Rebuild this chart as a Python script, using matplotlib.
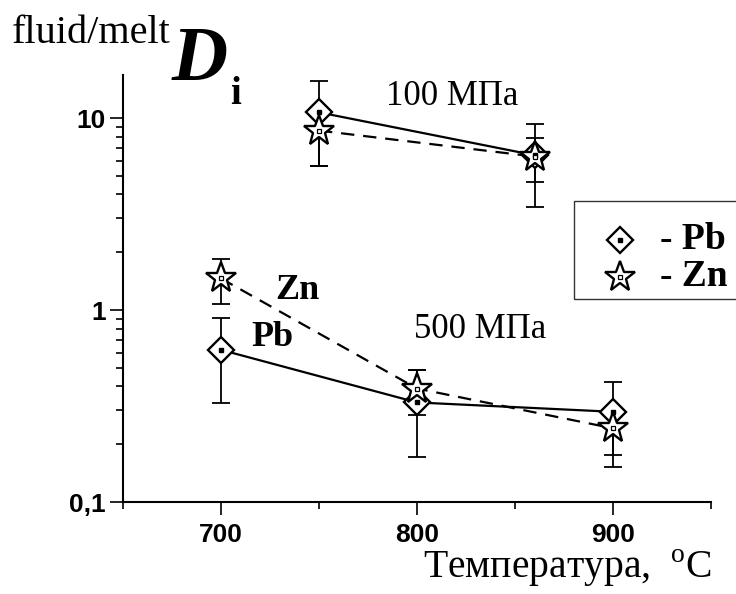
import matplotlib.pyplot as plt
from matplotlib.ticker import FixedLocator, FixedFormatter, LogLocator, NullFormatter
from matplotlib.lines import Line2D
from matplotlib.patches import Rectangle

plt.rcParams['mathtext.fontset'] = 'custom'
plt.rcParams['mathtext.rm'] = 'Liberation Serif'

# -- partition coefficients fluid/melt, 100 MPa runs
t_100 = [750, 860]
pb_100 = [10.7, 6.4]
pb_100_lo = [5.6, 3.45]
pb_100_hi = [15.6, 9.3]
zn_100 = [8.6, 6.3]
zn_100_lo = [5.6, 4.66]
zn_100_hi = [10.8, 7.9]

# -- 500 MPa runs
t_500 = [700, 800, 900]
pb_500 = [0.62, 0.33, 0.295]
pb_500_lo = [0.327, 0.172, 0.176]
pb_500_hi = [0.905, 0.487, 0.42]
zn_500 = [1.46, 0.39, 0.242]
zn_500_lo = [1.07, 0.284, 0.153]
zn_500_hi = [1.84, 0.487, 0.305]

x_ticks = [700, 800, 900]
y_ticks = [0.1, 1, 10]
y_labels = ['0,1', '1', '10']

serif = 'Liberation Serif'
sans = 'Liberation Sans'

fig = plt.figure(figsize=(7.36, 5.94), dpi=100)
ax = fig.add_axes([123 / 736, 92 / 594, 588 / 736, 427 / 594])


def series(x, y, lo, hi, marker, ms, ls):
    yerr = [[v - l for v, l in zip(y, lo)], [h - v for v, h in zip(y, hi)]]
    ax.errorbar(x, y, yerr=yerr, fmt='none', ecolor='black', elinewidth=1.3,
                capsize=6.5, capthick=1.3, zorder=2)
    ax.plot(x, y, color='black', lw=1.6, ls=ls, zorder=3,
            dashes=(6, 4) if ls == '--' else (None, None))
    ax.plot(x, y, ls='none', marker=marker, ms=ms, mfc='white', mec='black',
            mew=1.7, zorder=4)
    if marker == 'D':
        ax.plot(x, y, ls='none', marker='s', ms=2.2, mfc='black', mec='black', zorder=5)
    else:
        ax.plot(x, y, ls='none', marker='s', ms=3.5, mfc='white', mec='black',
                mew=0.9, zorder=5)


series(t_100, pb_100, pb_100_lo, pb_100_hi, 'D', 13, '-')
series(t_100, zn_100, zn_100_lo, zn_100_hi, '*', 23, '--')
series(t_500, pb_500, pb_500_lo, pb_500_hi, 'D', 13, '-')
series(t_500, zn_500, zn_500_lo, zn_500_hi, '*', 23, '--')

ax.set_yscale('log')
ax.set_xlim(650, 950)
ax.set_ylim(0.1, 16.75)

for s in ['top', 'right']:
    ax.spines[s].set_visible(False)
for s in ['left', 'bottom']:
    ax.spines[s].set_linewidth(1.5)

ax.xaxis.set_major_locator(FixedLocator(x_ticks))
ax.xaxis.set_minor_locator(FixedLocator([650, 750, 850, 950]))
ax.yaxis.set_major_locator(FixedLocator(y_ticks))
ax.yaxis.set_major_formatter(FixedFormatter(y_labels))
ax.yaxis.set_minor_locator(LogLocator(base=10, subs=range(2, 10)))
ax.yaxis.set_minor_formatter(NullFormatter())
ax.tick_params(which='major', direction='out', length=9.5, width=1.2)
ax.tick_params(which='minor', direction='out', length=5, width=1.2)
ax.tick_params(axis='x', which='major', pad=5.5)
ax.tick_params(axis='y', which='major', pad=3)
for lab in ax.get_xticklabels() + ax.get_yticklabels():
    lab.set_fontfamily(sans)
    lab.set_fontweight('bold')
    lab.set_fontsize(19)

# -- annotations
ax.text(818, 12.9, '100 МПа', family=serif, fontsize=25, ha='center', va='center')
ax.text(832, 0.787, '500 МПа', family=serif, fontsize=25, ha='center', va='center')
ax.text(739, 1.27, 'Zn', family=serif, fontsize=26, fontweight='bold', ha='center', va='center')
ax.text(726, 0.723, 'Pb', family=serif, fontsize=26, fontweight='bold', ha='center', va='center')

# -- axis titles
fig.text(12 / 736, 1 - 43 / 594, 'fluid/melt', family=serif, fontsize=29, va='baseline')
fig.text(172 / 736, 1 - 80 / 594, 'D', family=serif, fontsize=56, style='italic',
         fontweight='bold', va='baseline')
fig.text(230 / 736, 1 - 104 / 594, 'i', family=serif, fontsize=28, fontweight='bold',
         va='baseline')
fig.text(712 / 736, 1 - 578 / 594, 'Температура,  $^{\\rm o}$C', family=serif, fontsize=28.5,
         ha='right', va='baseline')

# -- legend box
fig.add_artist(Rectangle((574 / 736, 1 - 299 / 594), 200 / 736, 98 / 594,
                         transform=fig.transFigure, fill=False, ec='#333333', lw=1.0))
for yy, mk, ms, lab in [(240, 'D', 13, '- Pb'), (277, '*', 23, '- Zn')]:
    fig.add_artist(Line2D([620 / 736], [1 - yy / 594], marker=mk, ms=ms, mfc='white',
                          mec='black', mew=1.7, transform=fig.transFigure))
    if mk == 'D':
        fig.add_artist(Line2D([620 / 736], [1 - yy / 594], marker='s', ms=2.2, mfc='black',
                              mec='black', transform=fig.transFigure))
    else:
        fig.add_artist(Line2D([620 / 736], [1 - yy / 594], marker='s', ms=3.5, mfc='white',
                              mec='black', mew=0.9, transform=fig.transFigure))
    fig.text(660 / 736, 1 - yy / 594, lab, family=serif, fontsize=27, fontweight='bold',
             va='center')

fig.savefig('out.png', dpi=100)
